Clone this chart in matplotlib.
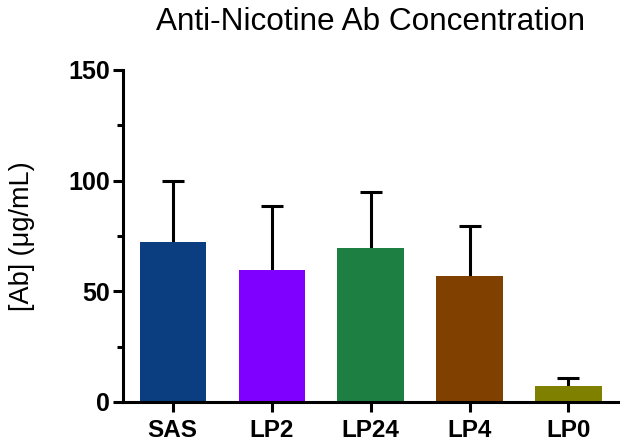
import matplotlib
matplotlib.use("Agg")
import matplotlib.pyplot as plt
import numpy as np

groups = ["SAS", "LP2", "LP24", "LP4", "LP0"]
means = [72.2, 59.6, 69.7, 56.8, 7.2]
upper = [100.0, 88.6, 94.8, 79.4, 10.7]
colors = ["#0a3e80", "#8000ff", "#1e7f43", "#804000", "#808000"]

plt.rcParams['font.family'] = ['Liberation Sans', 'DejaVu Sans']

fig = plt.figure(figsize=(6.29, 4.48), dpi=100)
ax = fig.add_axes([0.1956, 0.1027, 0.7869, 0.7411])

x = np.arange(len(groups))
err = np.array(upper) - np.array(means)
ax.bar(x, means, width=0.667, color=colors, zorder=2)
# only the upper half of the error bar is shown
eb = ax.errorbar(x, means, yerr=[np.zeros(len(x)), err], fmt='none', ecolor='black',
                 elinewidth=2.2, capsize=8, capthick=2.2, zorder=1)
for cap in eb[1]:
    if np.allclose(cap.get_ydata(), means):
        cap.set_visible(False)

ax.set_xlim(-0.5, 4.5)
ax.set_ylim(0, 150)
ax.set_yticks([0, 50, 100, 150])
ax.set_yticks([25, 75, 125], minor=True)
ax.set_xticks(x)
ax.set_xticklabels(groups, fontweight='bold', fontsize=17.5)
for lab in ax.get_yticklabels():
    lab.set_fontweight('bold')
    lab.set_fontsize(18)

for s in ['top', 'right']:
    ax.spines[s].set_visible(False)
for s in ['left', 'bottom']:
    ax.spines[s].set_linewidth(2.2)
ax.tick_params(axis='both', which='major', width=2.2, length=7.2, direction='out')
ax.tick_params(axis='y', which='minor', width=2.2, length=4.5)
ax.tick_params(axis='y', pad=2)
ax.tick_params(axis='x', pad=5)

ax.set_ylabel("[Ab] (μg/mL)", fontsize=19.5)
ax.yaxis.set_label_coords(-0.178, 0.5)
fig.text(0.589, 0.951, "Anti-Nicotine Ab Concentration", fontsize=22.7, ha='center', va='center')

fig.savefig("out.png", dpi=100)
